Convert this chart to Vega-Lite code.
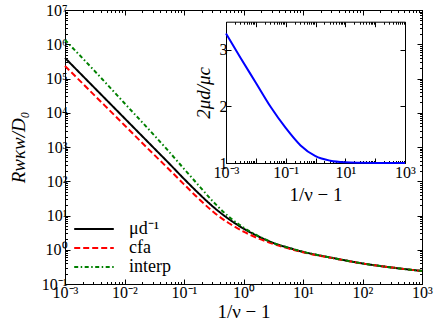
{
  "$schema": "https://vega.github.io/schema/vega-lite/v6.json",
  "width": 357,
  "height": 274,
  "autosize": {"type": "none"},
  "padding": {"left": 65, "top": 10, "right": 14, "bottom": 43},
  "background": "white",
  "config": {
    "view": {"stroke": "black", "strokeWidth": 1},
    "font": "Liberation Serif",
    "axis": {
      "grid": false,
      "domainColor": "black",
      "tickColor": "black",
      "labelColor": "black",
      "titleColor": "black",
      "labelFont": "Liberation Serif",
      "titleFont": "Liberation Serif",
      "titleFontWeight": "normal",
      "labelFontSize": 16,
      "titleFontSize": 19,
      "tickSize": -5,
      "labelPadding": 4,
      "labelOverlap": false,
      "labelFlush": false
    },
    "legend": {
      "labelFont": "Liberation Serif",
      "labelFontSize": 18,
      "labelColor": "black",
      "symbolType": "M-2.2,0H2.2",
      "symbolSize": 324,
      "symbolStrokeWidth": 2,
      "symbolOffset": 11,
      "padding": 0,
      "rowPadding": -3,
      "labelOffset": 25
    }
  },
  "datasets": {
    "main": [
      {"x": 0.001, "y": 398107, "s": "μd⁻¹"},
      {"x": 0.003162, "y": 52481, "s": "μd⁻¹"},
      {"x": 0.01, "y": 6918, "s": "μd⁻¹"},
      {"x": 0.03162, "y": 912, "s": "μd⁻¹"},
      {"x": 0.05623, "y": 331, "s": "μd⁻¹"},
      {"x": 0.1, "y": 117.5, "s": "μd⁻¹"},
      {"x": 0.1778, "y": 43.65, "s": "μd⁻¹"},
      {"x": 0.3162, "y": 17.38, "s": "μd⁻¹"},
      {"x": 0.5623, "y": 7.943, "s": "μd⁻¹"},
      {"x": 1, "y": 4.169, "s": "μd⁻¹"},
      {"x": 1.778, "y": 2.455, "s": "μd⁻¹"},
      {"x": 3.162, "y": 1.585, "s": "μd⁻¹"},
      {"x": 5.623, "y": 1.148, "s": "μd⁻¹"},
      {"x": 10, "y": 0.871, "s": "μd⁻¹"},
      {"x": 31.62, "y": 0.575, "s": "μd⁻¹"},
      {"x": 100, "y": 0.398, "s": "μd⁻¹"},
      {"x": 316.2, "y": 0.302, "s": "μd⁻¹"},
      {"x": 1000, "y": 0.24, "s": "μd⁻¹"},
      {"x": 0.001, "y": 232300, "s": "cfa"},
      {"x": 0.003162, "y": 31700, "s": "cfa"},
      {"x": 0.01, "y": 4325, "s": "cfa"},
      {"x": 0.03162, "y": 588.8, "s": "cfa"},
      {"x": 0.05623, "y": 221.3, "s": "cfa"},
      {"x": 0.1, "y": 81.1, "s": "cfa"},
      {"x": 0.1778, "y": 30.55, "s": "cfa"},
      {"x": 0.3162, "y": 12.42, "s": "cfa"},
      {"x": 0.5623, "y": 6.026, "s": "cfa"},
      {"x": 1, "y": 3.404, "s": "cfa"},
      {"x": 1.778, "y": 2.138, "s": "cfa"},
      {"x": 3.162, "y": 1.483, "s": "cfa"},
      {"x": 5.623, "y": 1.096, "s": "cfa"},
      {"x": 10, "y": 0.841, "s": "cfa"},
      {"x": 31.62, "y": 0.569, "s": "cfa"},
      {"x": 100, "y": 0.398, "s": "cfa"},
      {"x": 316.2, "y": 0.302, "s": "cfa"},
      {"x": 1000, "y": 0.24, "s": "cfa"},
      {"x": 0.001, "y": 1336600, "s": "interp"},
      {"x": 0.003162, "y": 164400, "s": "interp"},
      {"x": 0.01, "y": 18970, "s": "interp"},
      {"x": 0.03162, "y": 2188, "s": "interp"},
      {"x": 0.05623, "y": 724.4, "s": "interp"},
      {"x": 0.1, "y": 230.1, "s": "interp"},
      {"x": 0.1778, "y": 74.13, "s": "interp"},
      {"x": 0.3162, "y": 24.32, "s": "interp"},
      {"x": 0.5623, "y": 9.333, "s": "interp"},
      {"x": 1, "y": 4.457, "s": "interp"},
      {"x": 1.778, "y": 2.512, "s": "interp"},
      {"x": 3.162, "y": 1.585, "s": "interp"},
      {"x": 5.623, "y": 1.148, "s": "interp"},
      {"x": 10, "y": 0.871, "s": "interp"},
      {"x": 31.62, "y": 0.575, "s": "interp"},
      {"x": 100, "y": 0.398, "s": "interp"},
      {"x": 316.2, "y": 0.302, "s": "interp"},
      {"x": 1000, "y": 0.24, "s": "interp"}
    ],
    "inset": [
      {"x": 0.001, "y": 3.29},
      {"x": 0.003162, "y": 2.85},
      {"x": 0.01, "y": 2.42},
      {"x": 0.03162, "y": 1.99},
      {"x": 0.1, "y": 1.62},
      {"x": 0.3162, "y": 1.31},
      {"x": 1, "y": 1.12},
      {"x": 3.162, "y": 1.04},
      {"x": 10, "y": 1.012},
      {"x": 31.62, "y": 1.004},
      {"x": 100, "y": 1.001},
      {"x": 1000, "y": 1.0}
    ]
  },
  "resolve": {
    "scale": {"x": "independent", "y": "independent"},
    "axis": {"x": "independent", "y": "independent"}
  },
  "layer": [
    {
      "data": {"name": "main"},
      "mark": {"type": "line", "strokeWidth": 2, "interpolate": "monotone"},
      "encoding": {
        "x": {"field": "x", "type": "quantitative",
          "scale": {"type": "log", "domain": [0.001, 1000], "nice": false},
          "axis": {"orient": "bottom", "title": "1/ν − 1", "titlePadding": 2, "labelPadding": 5,
            "values": [0.001, 0.01, 0.1, 1, 10, 100, 1000],
            "labelExpr": "'10' + ['⁻³','⁻²','⁻¹','⁰','¹','²','³','⁴','⁵','⁶','⁷'][round(log(datum.value)/LN10)+3]"}},
        "y": {"field": "y", "type": "quantitative",
          "scale": {"type": "log", "domain": [0.1, 10000000], "nice": false},
          "axis": {"orient": "left", "title": "Rwκw/D₀", "titleFontStyle": "italic", "titlePadding": 13, "labelPadding": 3,
            "values": [0.1, 1, 10, 100, 1000, 10000, 100000, 1000000, 10000000],
            "labelExpr": "'10' + ['⁻³','⁻²','⁻¹','⁰','¹','²','³','⁴','⁵','⁶','⁷'][round(log(datum.value)/LN10)+3]"}},
        "color": {"field": "s", "type": "nominal",
          "scale": {"domain": ["μd⁻¹", "cfa", "interp"], "range": ["#000000", "#ff0000", "#008000"]},
          "legend": {"title": null, "orient": "bottom-left", "offset": 8}},
        "strokeDash": {"field": "s", "type": "nominal",
          "scale": {"domain": ["μd⁻¹", "cfa", "interp"], "range": [[1, 0], [6, 3], [4, 2.5, 1.5, 2.5]]},
          "legend": {"title": null, "orient": "bottom-left", "offset": 8}}
      }
    },
    {
      "data": {"name": "main"},
      "mark": {"type": "line", "strokeOpacity": 0},
      "encoding": {
        "x": {"field": "x", "type": "quantitative",
          "scale": {"type": "log", "domain": [0.001, 1000], "nice": false},
          "axis": {"orient": "top", "title": null, "labels": false,
            "values": [0.001, 0.01, 0.1, 1, 10, 100, 1000]}},
        "y": {"field": "y", "type": "quantitative",
          "scale": {"type": "log", "domain": [0.1, 10000000], "nice": false},
          "axis": {"orient": "right", "title": null, "labels": false,
            "values": [0.1, 1, 10, 100, 1000, 10000, 100000, 1000000, 10000000]}}
      }
    },
    {
      "data": {"name": "main"},
      "mark": {"type": "line", "strokeOpacity": 0},
      "encoding": {
        "x": {"field": "x", "type": "quantitative",
          "scale": {"type": "log", "domain": [0.001, 1000], "nice": false},
          "axis": {"orient": "bottom", "title": null, "labels": false, "domain": false, "tickSize": -2.5,
            "values": [0.002,0.003,0.004,0.005,0.006,0.007,0.008,0.009,0.02,0.03,0.04,0.05,0.06,0.07,0.08,0.09,0.2,0.3,0.4,0.5,0.6,0.7,0.8,0.9,2,3,4,5,6,7,8,9,20,30,40,50,60,70,80,90,200,300,400,500,600,700,800,900]}},
        "y": {"field": "y", "type": "quantitative",
          "scale": {"type": "log", "domain": [0.1, 10000000], "nice": false},
          "axis": {"orient": "left", "title": null, "labels": false, "domain": false, "tickSize": -2.5,
            "values": [0.2,0.3,0.4,0.5,0.6,0.7,0.8,0.9,2,3,4,5,6,7,8,9,20,30,40,50,60,70,80,90,200,300,400,500,600,700,800,900,2000,3000,4000,5000,6000,7000,8000,9000,20000,30000,40000,50000,60000,70000,80000,90000,200000,300000,400000,500000,600000,700000,800000,900000,2000000,3000000,4000000,5000000,6000000,7000000,8000000,9000000]}}
      }
    },
    {
      "data": {"name": "main"},
      "mark": {"type": "line", "strokeOpacity": 0},
      "encoding": {
        "x": {"field": "x", "type": "quantitative",
          "scale": {"type": "log", "domain": [0.001, 1000], "nice": false},
          "axis": {"orient": "top", "title": null, "labels": false, "domain": false, "tickSize": -2.5,
            "values": [0.002,0.003,0.004,0.005,0.006,0.007,0.008,0.009,0.02,0.03,0.04,0.05,0.06,0.07,0.08,0.09,0.2,0.3,0.4,0.5,0.6,0.7,0.8,0.9,2,3,4,5,6,7,8,9,20,30,40,50,60,70,80,90,200,300,400,500,600,700,800,900]}},
        "y": {"field": "y", "type": "quantitative",
          "scale": {"type": "log", "domain": [0.1, 10000000], "nice": false},
          "axis": {"orient": "right", "title": null, "labels": false, "domain": false, "tickSize": -2.5,
            "values": [0.2,0.3,0.4,0.5,0.6,0.7,0.8,0.9,2,3,4,5,6,7,8,9,20,30,40,50,60,70,80,90,200,300,400,500,600,700,800,900,2000,3000,4000,5000,6000,7000,8000,9000,20000,30000,40000,50000,60000,70000,80000,90000,200000,300000,400000,500000,600000,700000,800000,900000,2000000,3000000,4000000,5000000,6000000,7000000,8000000,9000000]}}
      }
    },
    {
      "data": {"name": "inset"},
      "mark": {"type": "line", "strokeWidth": 2, "color": "#0000ff", "interpolate": "monotone"},
      "encoding": {
        "x": {"field": "x", "type": "quantitative",
          "scale": {"type": "log", "domain": [0.001, 1000], "range": [161, 340], "nice": false},
          "axis": {"orient": "bottom", "offset": -121, "title": "1/ν − 1", "titlePadding": 5,
            "labelFontSize": 16, "labelPadding": 6,
            "values": [0.001, 0.01, 0.1, 1, 10, 100, 1000],
            "labelExpr": "(round(log(datum.value)/LN10)+3) % 2 == 0 ? '10' + ['⁻³','⁻²','⁻¹','⁰','¹','²','³'][round(log(datum.value)/LN10)+3] : ''"}},
        "y": {"field": "y", "type": "quantitative",
          "scale": {"type": "linear", "domain": [1, 3.5], "range": [153, 11.7], "nice": false, "zero": false},
          "axis": {"orient": "left", "offset": -161, "title": "2μd/μc", "titleFontStyle": "italic", "titlePadding": 6,
            "labelFontSize": 16, "labelPadding": 4,
            "values": [1, 2, 3], "format": "d"}}
      }
    },
    {
      "data": {"name": "inset"},
      "mark": {"type": "line", "strokeOpacity": 0},
      "encoding": {
        "x": {"field": "x", "type": "quantitative",
          "scale": {"type": "log", "domain": [0.001, 1000], "range": [161, 340], "nice": false},
          "axis": {"orient": "top", "offset": -11.7, "title": null, "labels": false,
            "values": [0.001, 0.01, 0.1, 1, 10, 100, 1000]}},
        "y": {"field": "y", "type": "quantitative",
          "scale": {"type": "linear", "domain": [1, 3.5], "range": [153, 11.7], "nice": false, "zero": false},
          "axis": {"orient": "right", "offset": -17, "title": null, "labels": false,
            "values": [1, 2, 3]}}
      }
    },
    {
      "data": {"name": "inset"},
      "mark": {"type": "line", "strokeOpacity": 0},
      "encoding": {
        "x": {"field": "x", "type": "quantitative",
          "scale": {"type": "log", "domain": [0.001, 1000], "range": [161, 340], "nice": false},
          "axis": {"orient": "bottom", "offset": -121, "title": null, "labels": false, "domain": false, "tickSize": -2.5,
            "values": [0.002,0.003,0.004,0.005,0.006,0.007,0.008,0.009,0.02,0.03,0.04,0.05,0.06,0.07,0.08,0.09,0.2,0.3,0.4,0.5,0.6,0.7,0.8,0.9,2,3,4,5,6,7,8,9,20,30,40,50,60,70,80,90,200,300,400,500,600,700,800,900]}},
        "y": {"field": "y", "type": "quantitative",
          "scale": {"type": "linear", "domain": [1, 3.5], "range": [153, 11.7], "nice": false, "zero": false},
          "axis": null}
      }
    },
    {
      "data": {"name": "inset"},
      "mark": {"type": "line", "strokeOpacity": 0},
      "encoding": {
        "x": {"field": "x", "type": "quantitative",
          "scale": {"type": "log", "domain": [0.001, 1000], "range": [161, 340], "nice": false},
          "axis": {"orient": "top", "offset": -11.7, "title": null, "labels": false, "domain": false, "tickSize": -2.5,
            "values": [0.002,0.003,0.004,0.005,0.006,0.007,0.008,0.009,0.02,0.03,0.04,0.05,0.06,0.07,0.08,0.09,0.2,0.3,0.4,0.5,0.6,0.7,0.8,0.9,2,3,4,5,6,7,8,9,20,30,40,50,60,70,80,90,200,300,400,500,600,700,800,900]}},
        "y": {"field": "y", "type": "quantitative",
          "scale": {"type": "linear", "domain": [1, 3.5], "range": [153, 11.7], "nice": false, "zero": false},
          "axis": null}
      }
    }
  ]
}
